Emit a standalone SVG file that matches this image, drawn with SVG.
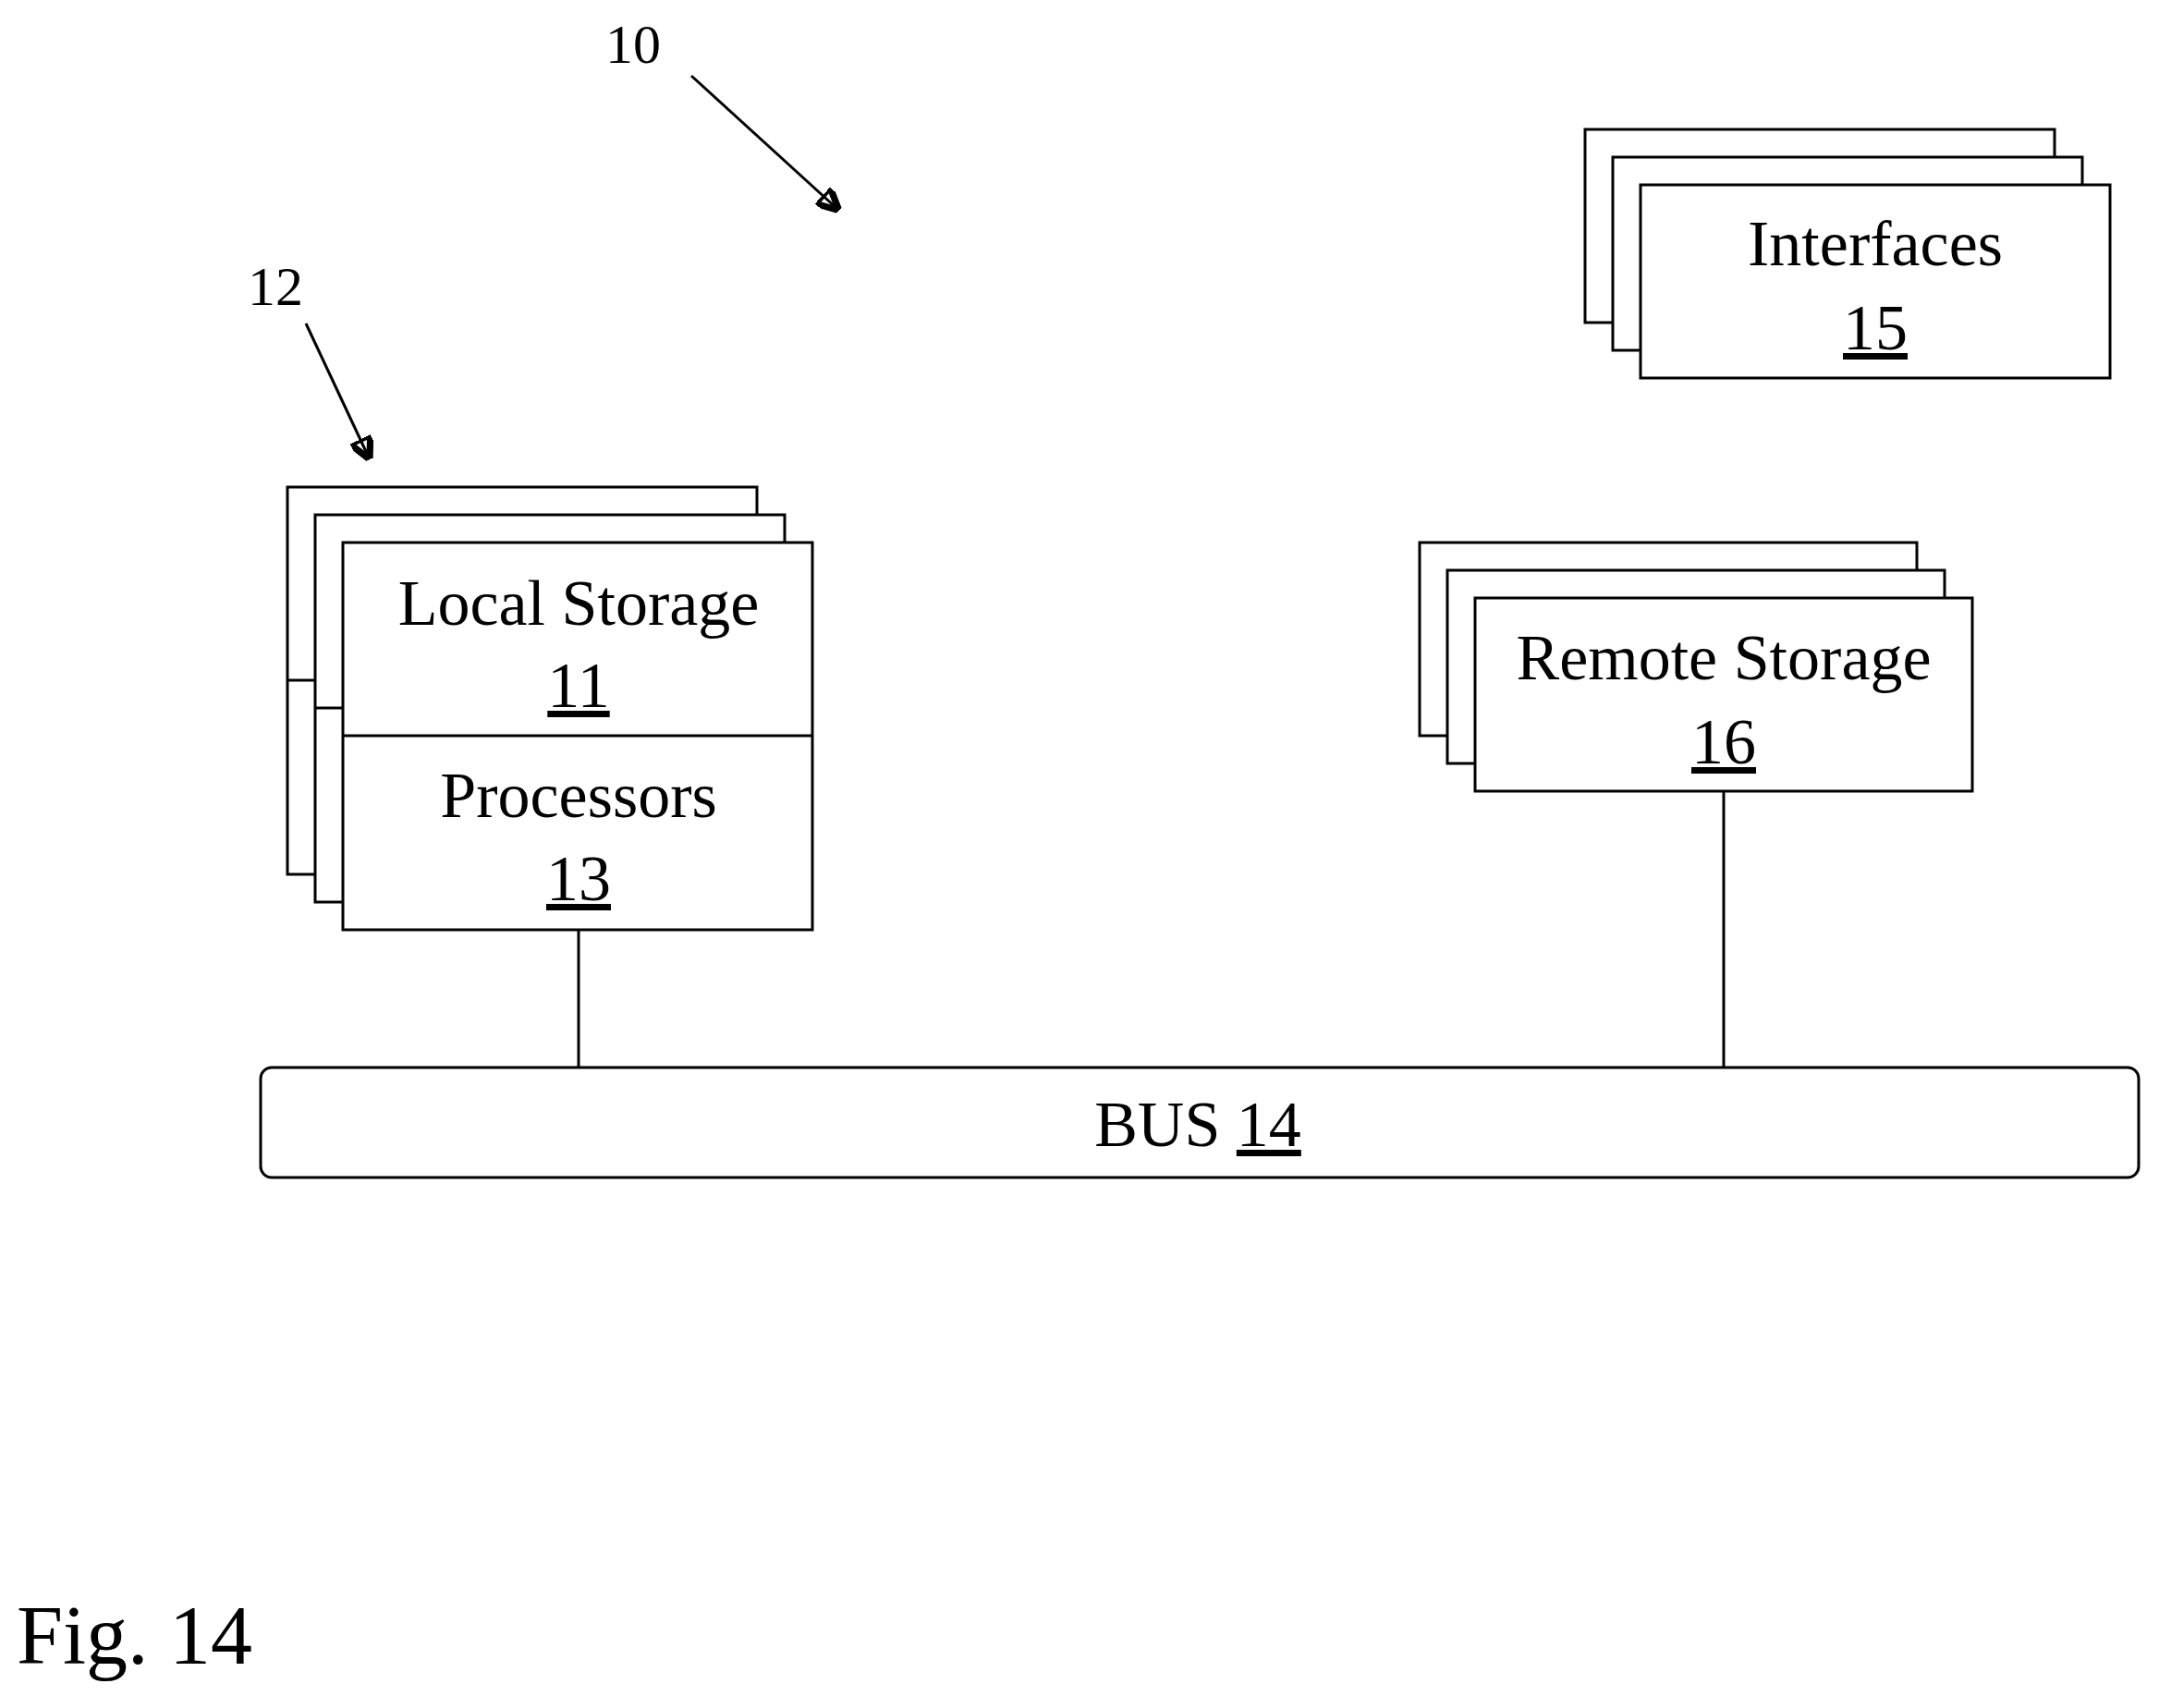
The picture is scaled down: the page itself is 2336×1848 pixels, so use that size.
<svg xmlns="http://www.w3.org/2000/svg" width="2336" height="1848" viewBox="0 0 2336 1848">
<style>
rect{fill:#fff;stroke:#000;stroke-width:3}
text{font-family:"Liberation Serif",serif;font-size:70px;fill:#000;text-anchor:middle}
.u{text-decoration:underline}
line,path{stroke:#000;stroke-width:3;fill:none}
</style>
<defs><marker id="a" viewBox="0 0 10 10" refX="9" refY="5" markerWidth="8" markerHeight="8" orient="auto"><path d="M0,0L10,5L0,10z" fill="#000" stroke="none"/></marker></defs>
<rect width="2336" height="1848" style="stroke:none"/>
<g id="ref10"><text x="685" y="68" style="font-size:60px">10</text></g>
<g id="ref12"><text x="298" y="330" style="font-size:60px">12</text></g>
<g id="node12">
<rect x="311" y="527" width="508" height="419"/>
<line x1="311" y1="736" x2="341" y2="736"/>
<rect x="341" y="557" width="508" height="419"/>
<line x1="341" y1="766" x2="371" y2="766"/>
<rect x="371" y="587" width="508" height="419"/>
<line x1="371" y1="796" x2="879" y2="796"/>
<text x="626" y="676">Local Storage</text>
<text x="626" y="765" class="u">11</text>
<text x="626" y="884">Processors</text>
<text x="626" y="974" class="u">13</text>
</g>
<g id="node15">
<rect x="1715" y="140" width="508" height="209"/>
<rect x="1745" y="170" width="508" height="209"/>
<rect x="1775" y="200" width="508" height="209"/>
<text x="2029" y="287">Interfaces</text>
<text x="2029" y="378" class="u">15</text>
</g>
<g id="node16">
<rect x="1536" y="587" width="538" height="209"/>
<rect x="1566" y="617" width="538" height="209"/>
<rect x="1596" y="647" width="538" height="209"/>
<text x="1865" y="735">Remote Storage</text>
<text x="1865" y="826" class="u">16</text>
</g>
<g id="bus14">
<rect x="282" y="1155" width="2032" height="119" rx="12"/>
<text x="1296" y="1240">BUS <tspan class="u">14</tspan></text>
</g>
<g id="connectors">
<line x1="748" y1="82" x2="906" y2="226" marker-end="url(#a)"/>
<line x1="331" y1="350" x2="399" y2="495" marker-end="url(#a)"/>
<line x1="626" y1="1006" x2="626" y2="1155"/>
<line x1="1865" y1="856" x2="1865" y2="1155"/>
</g>
<text x="18" y="1800" style="font-size:90px;text-anchor:start">Fig. 14</text>
</svg>
